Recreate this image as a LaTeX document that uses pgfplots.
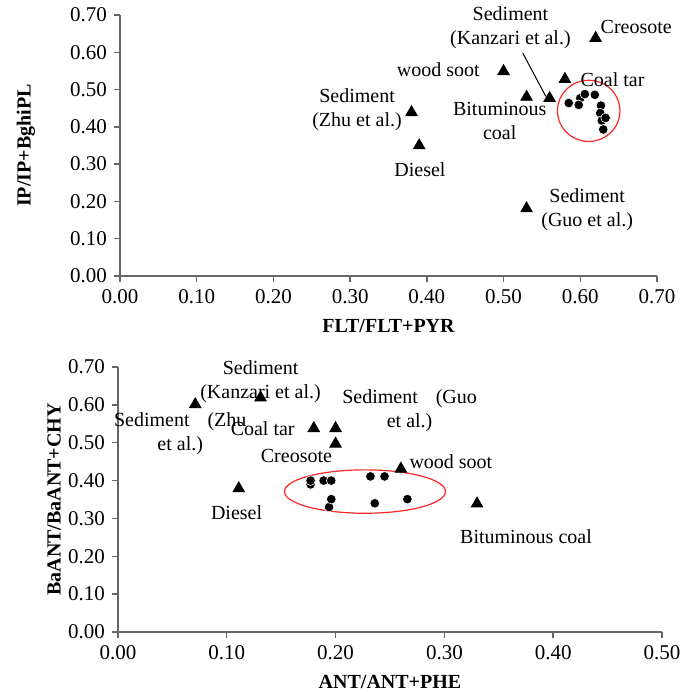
\documentclass[border=0pt]{standalone}
\usepackage{fontspec}
\setmainfont{Liberation Serif}
\usepackage{pgfplots}
\pgfplotsset{compat=1.18}

\pgfplotsset{
  ratio/.style={
    scale only axis,
    anchor=south west,
    axis lines=left,
    axis line style={draw=gray!80!black, line width=0.7pt, -},
    tick style={draw=gray!80!black, line width=0.7pt},
    tick align=outside,
    major tick length=3pt,
    ymin=0, ymax=0.7,
    ytick={0,0.1,0.2,0.3,0.4,0.5,0.6,0.7},
    clip=false,
    font=\fontsize{10.5}{12}\selectfont,
    /pgf/number format/.cd, fixed, fixed zerofill, precision=2, assume math mode=true,
    /pgfplots/.cd,
    xlabel style={font=\fontsize{10}{12}\selectfont\bfseries, at={(axis description cs:0.5,0)}, anchor=center, yshift=-25pt},
    ylabel style={font=\fontsize{10}{12}\selectfont\bfseries, at={(axis description cs:0,0.5)}, anchor=center},
  },
  tri/.style={only marks, mark=triangle*, mark size=3.3pt, mark options={draw=black, fill=black}},
  dot/.style={only marks, mark=*, mark size=2.4pt, mark options={draw=white, fill=black, line width=0.3pt}},
}
\tikzset{lab/.style={align=center, font=\fontsize{10}{12}\selectfont, inner sep=0pt}}

\begin{document}
\begin{tikzpicture}
\path[use as bounding box] (0,0) rectangle (340.5pt,-346pt);

% upper panel
\begin{axis}[ratio,
  at={(60pt,-138pt)},
  width=268.5pt, height=130.5pt,
  xmin=0, xmax=0.7,
  xtick={0,0.1,0.2,0.3,0.4,0.5,0.6,0.7},
  xlabel={FLT/FLT+PYR},
  ylabel={IP/IP+BghiPL},
  ylabel style={yshift=47pt},
]
\addplot[tri] coordinates {(0.62,0.638) (0.50,0.549) (0.58,0.528) (0.53,0.480) (0.56,0.477) (0.38,0.439) (0.39,0.350) (0.53,0.181)};
\addplot[dot] coordinates {(0.600,0.477) (0.585,0.464) (0.598,0.459) (0.606,0.488) (0.619,0.486) (0.627,0.457) (0.626,0.437) (0.628,0.417) (0.633,0.424) (0.630,0.393)};
\draw[red!85, line width=0.6pt] (axis cs:0.611,0.443) ellipse [x radius=0.0407, y radius=0.082];
\draw[black, line width=0.5pt] (axis cs:0.525,0.598) -- (axis cs:0.555,0.482);
\node[lab] at (axis cs:0.509,0.665) {Sediment\\(Kanzari et al.)};
\node[lab] at (axis cs:0.673,0.669) {Creosote};
\node[lab] at (axis cs:0.415,0.553) {wood soot};
\node[lab] at (axis cs:0.642,0.526) {Coal tar};
\node[lab] at (axis cs:0.309,0.446) {Sediment\\(Zhu et al.)};
\node[lab] at (axis cs:0.495,0.415) {Bituminous\\coal};
\node[lab] at (axis cs:0.391,0.285) {Diesel};
\node[lab] at (axis cs:0.609,0.177) {Sediment\\(Guo et al.)};
\end{axis}

% lower panel
\begin{axis}[ratio,
  at={(59pt,-316pt)},
  width=272pt, height=132.5pt,
  xmin=0, xmax=0.5,
  xtick={0,0.1,0.2,0.3,0.4,0.5},
  xlabel={ANT/ANT+PHE},
  ylabel={BaANT/BaANT+CHY},
  ylabel style={yshift=32pt},
]
\addplot[tri] coordinates {(0.071,0.601) (0.131,0.619) (0.18,0.538) (0.20,0.538) (0.20,0.497) (0.26,0.431) (0.111,0.379) (0.33,0.339)};
\addplot[dot] coordinates {(0.177,0.390) (0.177,0.400) (0.189,0.400) (0.196,0.400) (0.232,0.411) (0.245,0.411) (0.194,0.330) (0.196,0.351) (0.236,0.340) (0.266,0.351)};
\draw[red!85, line width=0.6pt] (axis cs:0.227,0.371) ellipse [x radius=0.074, y radius=0.0573];
\node[lab] at (axis cs:0.131,0.660) {Sediment\\(Kanzari et al.)};
\node[lab] at (axis cs:0.268,0.585) {Sediment\hspace{9pt}(Guo\\et al.)};
\node[lab] at (axis cs:0.0572,0.524) {Sediment\hspace{9pt}(Zhu\\et al.)};
\node[lab] at (axis cs:0.133,0.536) {Coal tar};
\node[lab] at (axis cs:0.164,0.464) {Creosote};
\node[lab] at (axis cs:0.306,0.451) {wood soot};
\node[lab] at (axis cs:0.109,0.316) {Diesel};
\node[lab] at (axis cs:0.375,0.252) {Bituminous coal};
\end{axis}
\end{tikzpicture}
\end{document}
